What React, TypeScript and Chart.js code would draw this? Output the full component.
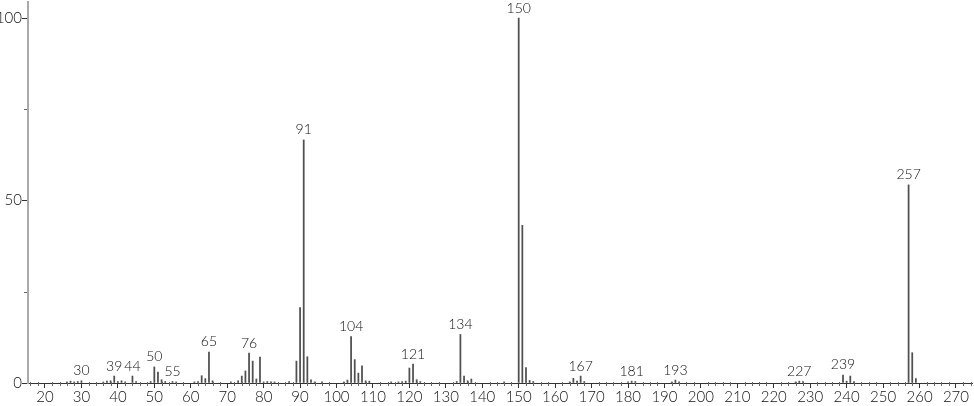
import React, { useEffect, useRef } from "react";
import { Chart, registerables } from "chart.js";

Chart.register(...registerables);

const mzValues: number[] = [
  26, 27, 28, 29, 30, 36, 37, 38, 39, 40, 41, 42, 44, 45, 49, 50, 51, 52, 53, 55, 56,
  61, 62, 63, 64, 65, 66, 71, 73, 74, 75, 76, 77, 78, 79, 80, 81, 82, 83, 87,
  89, 90, 91, 92, 93, 94, 96, 102, 103, 104, 105, 106, 107, 108, 109, 115, 117, 118, 119,
  120, 121, 122, 123, 133, 134, 135, 136, 137, 146, 150, 151, 152, 153, 154,
  164, 165, 166, 167, 168, 180, 181, 182, 192, 193, 194, 226, 227, 228,
  239, 240, 241, 242, 257, 258, 259,
];

const intensities: number[] = [
  0.3, 0.5, 0.3, 0.4, 0.6, 0.3, 0.5, 0.6, 1.9, 0.4, 0.6, 0.3, 1.9, 0.4, 0.4, 4.4, 3.0, 0.9, 0.4, 0.4, 0.3,
  0.3, 0.4, 2.0, 1.2, 8.5, 0.6, 0.3, 0.6, 1.9, 3.3, 8.2, 6.0, 1.1, 7.1, 0.3, 0.4, 0.3, 0.3, 0.4,
  6.0, 20.7, 66.6, 7.2, 0.9, 0.3, 0.3, 0.3, 0.8, 12.7, 6.4, 2.7, 4.7, 0.6, 0.5, 0.3, 0.3, 0.4, 0.5,
  4.1, 5.2, 0.9, 0.4, 0.4, 13.3, 1.9, 0.6, 1.1, 0.3, 100, 43.2, 4.2, 0.7, 0.4,
  0.3, 1.3, 0.5, 1.9, 0.4, 0.3, 0.5, 0.4, 0.3, 0.8, 0.3, 0.3, 0.5, 0.4,
  2.2, 0.5, 1.9, 0.4, 54.3, 8.3, 1.2,
];

const labeledPeaks: number[] = [30, 39, 44, 50, 55, 65, 76, 91, 104, 121, 134, 150, 167, 181, 193, 227, 239, 257];

const xTickValues: number[] = [20, 30, 40, 50, 60, 70, 80, 90, 100, 110, 120, 130, 140, 150, 160, 170, 180, 190, 200, 210, 220, 230, 240, 250, 260, 270];
const yTickValues: number[] = [0, 50, 100];
const yMinorTicks: number[] = [25, 75];

const xMin = 15.335;
const xMax = 274.4;
const yMax = 104.4;

const FONT = "Lato, 'DejaVu Sans', sans-serif";

export default function App() {
  const ref = useRef<HTMLCanvasElement | null>(null);

  useEffect(() => {
    document.body.style.margin = "0";
    const canvas = ref.current;
    if (!canvas) return;

    const points = mzValues.map((m, i) => ({ x: m, y: intensities[i] }));

    const annotate = {
      id: "annotate",
      afterDatasetsDraw(chart: any) {
        const ctx = chart.ctx;
        const xs = chart.scales.x;
        const ys = chart.scales.y;
        ctx.save();
        ctx.strokeStyle = "#666";
        ctx.lineWidth = 1;
        const baseY = Math.round(ys.getPixelForValue(0));
        for (let v = 16; v <= 274; v += 2) {
          if (v % 10 === 0) continue;
          const px = Math.round(xs.getPixelForValue(v)) + 0.5;
          ctx.beginPath();
          ctx.moveTo(px, baseY - 1);
          ctx.lineTo(px, baseY + 3);
          ctx.stroke();
        }
        const axisX = xs.left;
        for (const v of yMinorTicks) {
          const py = Math.round(ys.getPixelForValue(v)) + 0.5;
          ctx.beginPath();
          ctx.moveTo(axisX - 4, py);
          ctx.lineTo(axisX - 1, py);
          ctx.stroke();
        }
        ctx.fillStyle = "#111";
        ctx.font = "300 14px " + FONT;
        ctx.textAlign = "center";
        ctx.textBaseline = "bottom";
        for (const m of labeledPeaks) {
          const idx = mzValues.indexOf(m);
          const v = idx >= 0 ? intensities[idx] : 0;
          const px = xs.getPixelForValue(m);
          const py = ys.getPixelForValue(v) - 3;
          ctx.fillText(String(m), px, py);
        }
        ctx.restore();
      },
    };

    const chart = new Chart(canvas, {
      type: "bar",
      data: {
        datasets: [
          {
            data: points as any,
            backgroundColor: "#505050",
            borderWidth: 0,
            barThickness: 1.1,
          } as any,
        ],
      },
      options: {
        responsive: false,
        animation: false,
        parsing: { xAxisKey: "x", yAxisKey: "y" } as any,
        layout: { padding: { top: 2, right: 2, left: 0, bottom: 0 } },
        plugins: { legend: { display: false }, tooltip: { enabled: false } },
        scales: {
          x: {
            type: "linear",
            min: xMin,
            max: xMax,
            offset: false,
            grid: { display: true, drawOnChartArea: false, drawTicks: true, tickLength: 5, tickColor: "#333", offset: false },
            border: { display: true, color: "#333", width: 1 },
            ticks: {
              autoSkip: false,
              maxRotation: 0,
              padding: 0,
              color: "#111",
              font: { family: FONT, size: 15, weight: "300" },
              callback: (v: any) => String(v),
            },
            afterBuildTicks: (scale: any) => {
              scale.ticks = xTickValues.map((v) => ({ value: v }));
            },
            afterFit: (scale: any) => {
              scale.height = 23;
              scale.paddingLeft = 0;
              scale.paddingRight = 0;
            },
          } as any,
          y: {
            type: "linear",
            min: 0,
            max: yMax,
            grid: { display: true, drawOnChartArea: false, drawTicks: true, tickLength: 6, tickColor: "#333" },
            border: { display: true, color: "#aaa", width: 2 },
            ticks: {
              autoSkip: false,
              padding: 0,
              color: "#111",
              font: { family: FONT, size: 15, weight: "300" },
              callback: (v: any) => String(v),
            },
            afterBuildTicks: (scale: any) => {
              scale.ticks = yTickValues.map((v) => ({ value: v }));
            },
            afterFit: (scale: any) => {
              scale.width = 28;
              scale.paddingTop = 0;
              scale.paddingBottom = 0;
            },
          } as any,
        },
      },
      plugins: [annotate],
    });

    return () => chart.destroy();
  }, []);

  return (
    <div style={{ position: "relative", width: 974, height: 406, background: "#fff" }}>
      <canvas ref={ref} width={974} height={406} style={{ display: "block" }} />
    </div>
  );
}
